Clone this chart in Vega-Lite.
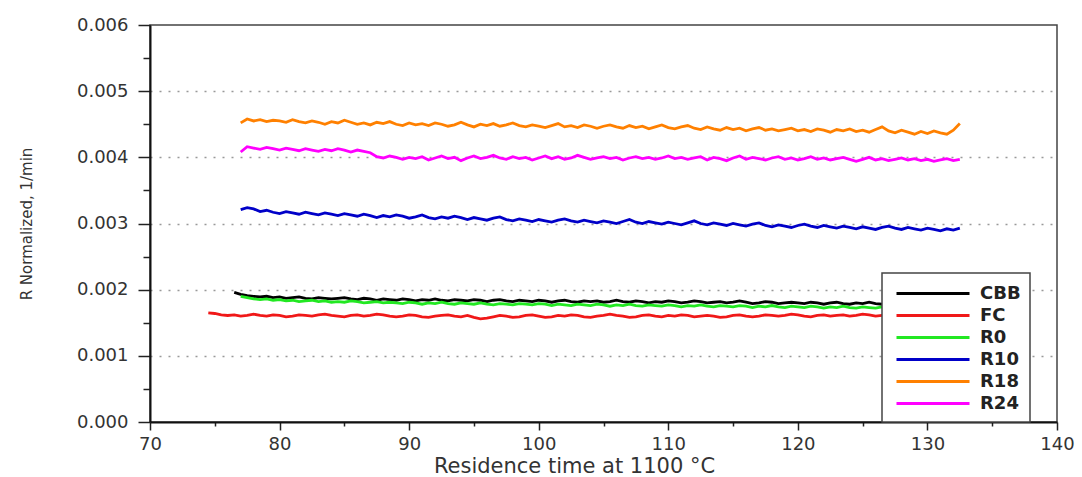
{
  "$schema": "https://vega.github.io/schema/vega-lite/v6.json",
  "width": 907,
  "height": 397,
  "autosize": {"type": "none"},
  "padding": {"left": 150, "top": 25, "right": 25, "bottom": 55},
  "background": "white",
  "config": {
    "view": {"stroke": "#444", "strokeWidth": 1.5},
    "font": "DejaVu Sans"
  },
  "data": {"values": [
    {"x": 74.5, "FC": 0.00165},
    {"x": 75, "FC": 0.00164},
    {"x": 75.5, "FC": 0.00162},
    {"x": 76, "FC": 0.00161},
    {"x": 76.5, "FC": 0.00162, "CBB": 0.00196},
    {"x": 77, "FC": 0.00160, "CBB": 0.00193, "R0": 0.00190, "R10": 0.00321, "R18": 0.00452, "R24": 0.00408},
    {"x": 77.5, "FC": 0.00161, "CBB": 0.00191, "R0": 0.00188, "R10": 0.00324, "R18": 0.00458, "R24": 0.00416},
    {"x": 78, "FC": 0.00163, "CBB": 0.00190, "R0": 0.00186, "R10": 0.00322, "R18": 0.00455, "R24": 0.00414},
    {"x": 78.5, "FC": 0.00161, "CBB": 0.00189, "R0": 0.00185, "R10": 0.00318, "R18": 0.00457, "R24": 0.00412},
    {"x": 79, "FC": 0.00160, "CBB": 0.00190, "R0": 0.00186, "R10": 0.00320, "R18": 0.00454, "R24": 0.00415},
    {"x": 79.5, "FC": 0.00162, "CBB": 0.00188, "R0": 0.00184, "R10": 0.00317, "R18": 0.00456, "R24": 0.00413},
    {"x": 80, "FC": 0.00161, "CBB": 0.00189, "R0": 0.00185, "R10": 0.00315, "R18": 0.00455, "R24": 0.00411},
    {"x": 80.5, "FC": 0.00159, "CBB": 0.00187, "R0": 0.00183, "R10": 0.00318, "R18": 0.00453, "R24": 0.00414},
    {"x": 81, "FC": 0.00160, "CBB": 0.00188, "R0": 0.00184, "R10": 0.00316, "R18": 0.00457, "R24": 0.00412},
    {"x": 81.5, "FC": 0.00162, "CBB": 0.00189, "R0": 0.00182, "R10": 0.00314, "R18": 0.00454, "R24": 0.00410},
    {"x": 82, "FC": 0.00161, "CBB": 0.00187, "R0": 0.00183, "R10": 0.00317, "R18": 0.00452, "R24": 0.00413},
    {"x": 82.5, "FC": 0.00160, "CBB": 0.00186, "R0": 0.00184, "R10": 0.00315, "R18": 0.00455, "R24": 0.00411},
    {"x": 83, "FC": 0.00162, "CBB": 0.00188, "R0": 0.00182, "R10": 0.00313, "R18": 0.00453, "R24": 0.00409},
    {"x": 83.5, "FC": 0.00163, "CBB": 0.00187, "R0": 0.00183, "R10": 0.00316, "R18": 0.00450, "R24": 0.00412},
    {"x": 84, "FC": 0.00161, "CBB": 0.00186, "R0": 0.00181, "R10": 0.00314, "R18": 0.00454, "R24": 0.00410},
    {"x": 84.5, "FC": 0.00160, "CBB": 0.00187, "R0": 0.00182, "R10": 0.00312, "R18": 0.00452, "R24": 0.00413},
    {"x": 85, "FC": 0.00159, "CBB": 0.00188, "R0": 0.00181, "R10": 0.00315, "R18": 0.00456, "R24": 0.00411},
    {"x": 85.5, "FC": 0.00161, "CBB": 0.00186, "R0": 0.00183, "R10": 0.00313, "R18": 0.00453, "R24": 0.00408},
    {"x": 86, "FC": 0.00162, "CBB": 0.00185, "R0": 0.00182, "R10": 0.00311, "R18": 0.00450, "R24": 0.00411},
    {"x": 86.5, "FC": 0.00160, "CBB": 0.00187, "R0": 0.00180, "R10": 0.00314, "R18": 0.00452, "R24": 0.00409},
    {"x": 87, "FC": 0.00161, "CBB": 0.00186, "R0": 0.00181, "R10": 0.00312, "R18": 0.00449, "R24": 0.00407},
    {"x": 87.5, "FC": 0.00163, "CBB": 0.00184, "R0": 0.00182, "R10": 0.00309, "R18": 0.00453, "R24": 0.00401},
    {"x": 88, "FC": 0.00162, "CBB": 0.00186, "R0": 0.00180, "R10": 0.00312, "R18": 0.00451, "R24": 0.00399},
    {"x": 88.5, "FC": 0.00160, "CBB": 0.00185, "R0": 0.00181, "R10": 0.00310, "R18": 0.00454, "R24": 0.00402},
    {"x": 89, "FC": 0.00159, "CBB": 0.00184, "R0": 0.00180, "R10": 0.00313, "R18": 0.00450, "R24": 0.00400},
    {"x": 89.5, "FC": 0.00160, "CBB": 0.00186, "R0": 0.00179, "R10": 0.00311, "R18": 0.00448, "R24": 0.00397},
    {"x": 90, "FC": 0.00162, "CBB": 0.00185, "R0": 0.00181, "R10": 0.00308, "R18": 0.00452, "R24": 0.00400},
    {"x": 90.5, "FC": 0.00161, "CBB": 0.00183, "R0": 0.00180, "R10": 0.00310, "R18": 0.00449, "R24": 0.00398},
    {"x": 91, "FC": 0.00159, "CBB": 0.00185, "R0": 0.00178, "R10": 0.00313, "R18": 0.00451, "R24": 0.00401},
    {"x": 91.5, "FC": 0.00158, "CBB": 0.00184, "R0": 0.00180, "R10": 0.00309, "R18": 0.00448, "R24": 0.00396},
    {"x": 92, "FC": 0.00160, "CBB": 0.00186, "R0": 0.00179, "R10": 0.00307, "R18": 0.00452, "R24": 0.00399},
    {"x": 92.5, "FC": 0.00161, "CBB": 0.00184, "R0": 0.00181, "R10": 0.00310, "R18": 0.00450, "R24": 0.00402},
    {"x": 93, "FC": 0.00162, "CBB": 0.00183, "R0": 0.00179, "R10": 0.00308, "R18": 0.00447, "R24": 0.00398},
    {"x": 93.5, "FC": 0.00160, "CBB": 0.00185, "R0": 0.00178, "R10": 0.00311, "R18": 0.00449, "R24": 0.00400},
    {"x": 94, "FC": 0.00159, "CBB": 0.00184, "R0": 0.00180, "R10": 0.00309, "R18": 0.00453, "R24": 0.00395},
    {"x": 94.5, "FC": 0.00161, "CBB": 0.00183, "R0": 0.00179, "R10": 0.00306, "R18": 0.00449, "R24": 0.00399},
    {"x": 95, "FC": 0.00158, "CBB": 0.00185, "R0": 0.00178, "R10": 0.00309, "R18": 0.00446, "R24": 0.00402},
    {"x": 95.5, "FC": 0.00156, "CBB": 0.00184, "R0": 0.00180, "R10": 0.00307, "R18": 0.00450, "R24": 0.00398},
    {"x": 96, "FC": 0.00157, "CBB": 0.00182, "R0": 0.00178, "R10": 0.00305, "R18": 0.00448, "R24": 0.00400},
    {"x": 96.5, "FC": 0.00159, "CBB": 0.00184, "R0": 0.00177, "R10": 0.00308, "R18": 0.00451, "R24": 0.00403},
    {"x": 97, "FC": 0.00161, "CBB": 0.00185, "R0": 0.00179, "R10": 0.00310, "R18": 0.00447, "R24": 0.00399},
    {"x": 97.5, "FC": 0.00160, "CBB": 0.00183, "R0": 0.00178, "R10": 0.00306, "R18": 0.00449, "R24": 0.00397},
    {"x": 98, "FC": 0.00158, "CBB": 0.00182, "R0": 0.00177, "R10": 0.00304, "R18": 0.00452, "R24": 0.00401},
    {"x": 98.5, "FC": 0.00159, "CBB": 0.00184, "R0": 0.00179, "R10": 0.00307, "R18": 0.00448, "R24": 0.00398},
    {"x": 99, "FC": 0.00161, "CBB": 0.00183, "R0": 0.00178, "R10": 0.00305, "R18": 0.00446, "R24": 0.00400},
    {"x": 99.5, "FC": 0.00162, "CBB": 0.00182, "R0": 0.00177, "R10": 0.00303, "R18": 0.00449, "R24": 0.00396},
    {"x": 100, "FC": 0.00160, "CBB": 0.00184, "R0": 0.00179, "R10": 0.00306, "R18": 0.00447, "R24": 0.00399},
    {"x": 100.5, "FC": 0.00158, "CBB": 0.00183, "R0": 0.00178, "R10": 0.00304, "R18": 0.00445, "R24": 0.00402},
    {"x": 101, "FC": 0.00159, "CBB": 0.00181, "R0": 0.00176, "R10": 0.00302, "R18": 0.00448, "R24": 0.00398},
    {"x": 101.5, "FC": 0.00161, "CBB": 0.00183, "R0": 0.00178, "R10": 0.00305, "R18": 0.00451, "R24": 0.00401},
    {"x": 102, "FC": 0.00160, "CBB": 0.00184, "R0": 0.00177, "R10": 0.00307, "R18": 0.00446, "R24": 0.00397},
    {"x": 102.5, "FC": 0.00162, "CBB": 0.00182, "R0": 0.00176, "R10": 0.00304, "R18": 0.00448, "R24": 0.00399},
    {"x": 103, "FC": 0.00161, "CBB": 0.00181, "R0": 0.00178, "R10": 0.00302, "R18": 0.00445, "R24": 0.00403},
    {"x": 103.5, "FC": 0.00159, "CBB": 0.00183, "R0": 0.00177, "R10": 0.00305, "R18": 0.00449, "R24": 0.00400},
    {"x": 104, "FC": 0.00158, "CBB": 0.00182, "R0": 0.00176, "R10": 0.00303, "R18": 0.00447, "R24": 0.00397},
    {"x": 104.5, "FC": 0.00160, "CBB": 0.00183, "R0": 0.00178, "R10": 0.00301, "R18": 0.00444, "R24": 0.00399},
    {"x": 105, "FC": 0.00161, "CBB": 0.00181, "R0": 0.00177, "R10": 0.00304, "R18": 0.00447, "R24": 0.00401},
    {"x": 105.5, "FC": 0.00163, "CBB": 0.00182, "R0": 0.00175, "R10": 0.00302, "R18": 0.00449, "R24": 0.00398},
    {"x": 106, "FC": 0.00161, "CBB": 0.00184, "R0": 0.00177, "R10": 0.00300, "R18": 0.00446, "R24": 0.00400},
    {"x": 106.5, "FC": 0.00160, "CBB": 0.00182, "R0": 0.00176, "R10": 0.00303, "R18": 0.00444, "R24": 0.00396},
    {"x": 107, "FC": 0.00158, "CBB": 0.00181, "R0": 0.00178, "R10": 0.00306, "R18": 0.00448, "R24": 0.00399},
    {"x": 107.5, "FC": 0.00159, "CBB": 0.00183, "R0": 0.00176, "R10": 0.00302, "R18": 0.00445, "R24": 0.00401},
    {"x": 108, "FC": 0.00161, "CBB": 0.00182, "R0": 0.00175, "R10": 0.00300, "R18": 0.00447, "R24": 0.00398},
    {"x": 108.5, "FC": 0.00162, "CBB": 0.00180, "R0": 0.00177, "R10": 0.00303, "R18": 0.00443, "R24": 0.00400},
    {"x": 109, "FC": 0.00160, "CBB": 0.00182, "R0": 0.00176, "R10": 0.00301, "R18": 0.00446, "R24": 0.00397},
    {"x": 109.5, "FC": 0.00159, "CBB": 0.00181, "R0": 0.00175, "R10": 0.00299, "R18": 0.00449, "R24": 0.00399},
    {"x": 110, "FC": 0.00161, "CBB": 0.00183, "R0": 0.00177, "R10": 0.00302, "R18": 0.00445, "R24": 0.00402},
    {"x": 110.5, "FC": 0.00160, "CBB": 0.00182, "R0": 0.00176, "R10": 0.00300, "R18": 0.00443, "R24": 0.00398},
    {"x": 111, "FC": 0.00162, "CBB": 0.00180, "R0": 0.00174, "R10": 0.00298, "R18": 0.00446, "R24": 0.00400},
    {"x": 111.5, "FC": 0.00161, "CBB": 0.00181, "R0": 0.00176, "R10": 0.00301, "R18": 0.00448, "R24": 0.00397},
    {"x": 112, "FC": 0.00159, "CBB": 0.00183, "R0": 0.00175, "R10": 0.00304, "R18": 0.00444, "R24": 0.00399},
    {"x": 112.5, "FC": 0.00160, "CBB": 0.00182, "R0": 0.00177, "R10": 0.00300, "R18": 0.00442, "R24": 0.00401},
    {"x": 113, "FC": 0.00161, "CBB": 0.00180, "R0": 0.00175, "R10": 0.00298, "R18": 0.00446, "R24": 0.00396},
    {"x": 113.5, "FC": 0.00160, "CBB": 0.00181, "R0": 0.00174, "R10": 0.00301, "R18": 0.00443, "R24": 0.00400},
    {"x": 114, "FC": 0.00158, "CBB": 0.00182, "R0": 0.00176, "R10": 0.00299, "R18": 0.00441, "R24": 0.00398},
    {"x": 114.5, "FC": 0.00159, "CBB": 0.00180, "R0": 0.00175, "R10": 0.00297, "R18": 0.00445, "R24": 0.00395},
    {"x": 115, "FC": 0.00161, "CBB": 0.00181, "R0": 0.00174, "R10": 0.00300, "R18": 0.00442, "R24": 0.00399},
    {"x": 115.5, "FC": 0.00162, "CBB": 0.00183, "R0": 0.00176, "R10": 0.00298, "R18": 0.00444, "R24": 0.00402},
    {"x": 116, "FC": 0.00160, "CBB": 0.00181, "R0": 0.00175, "R10": 0.00296, "R18": 0.00440, "R24": 0.00397},
    {"x": 116.5, "FC": 0.00159, "CBB": 0.00179, "R0": 0.00173, "R10": 0.00299, "R18": 0.00443, "R24": 0.00400},
    {"x": 117, "FC": 0.00160, "CBB": 0.00180, "R0": 0.00175, "R10": 0.00301, "R18": 0.00445, "R24": 0.00398},
    {"x": 117.5, "FC": 0.00162, "CBB": 0.00182, "R0": 0.00174, "R10": 0.00297, "R18": 0.00441, "R24": 0.00396},
    {"x": 118, "FC": 0.00161, "CBB": 0.00181, "R0": 0.00176, "R10": 0.00295, "R18": 0.00443, "R24": 0.00399},
    {"x": 118.5, "FC": 0.00160, "CBB": 0.00179, "R0": 0.00174, "R10": 0.00298, "R18": 0.00440, "R24": 0.00401},
    {"x": 119, "FC": 0.00161, "CBB": 0.00180, "R0": 0.00173, "R10": 0.00296, "R18": 0.00442, "R24": 0.00397},
    {"x": 119.5, "FC": 0.00163, "CBB": 0.00181, "R0": 0.00175, "R10": 0.00294, "R18": 0.00444, "R24": 0.00399},
    {"x": 120, "FC": 0.00162, "CBB": 0.00180, "R0": 0.00174, "R10": 0.00297, "R18": 0.00440, "R24": 0.00396},
    {"x": 120.5, "FC": 0.00160, "CBB": 0.00179, "R0": 0.00173, "R10": 0.00299, "R18": 0.00442, "R24": 0.00398},
    {"x": 121, "FC": 0.00159, "CBB": 0.00181, "R0": 0.00175, "R10": 0.00296, "R18": 0.00439, "R24": 0.00401},
    {"x": 121.5, "FC": 0.00161, "CBB": 0.00180, "R0": 0.00174, "R10": 0.00294, "R18": 0.00443, "R24": 0.00397},
    {"x": 122, "FC": 0.00162, "CBB": 0.00178, "R0": 0.00172, "R10": 0.00297, "R18": 0.00441, "R24": 0.00399},
    {"x": 122.5, "FC": 0.00160, "CBB": 0.00180, "R0": 0.00174, "R10": 0.00295, "R18": 0.00438, "R24": 0.00396},
    {"x": 123, "FC": 0.00161, "CBB": 0.00181, "R0": 0.00173, "R10": 0.00293, "R18": 0.00442, "R24": 0.00398},
    {"x": 123.5, "FC": 0.00162, "CBB": 0.00179, "R0": 0.00175, "R10": 0.00296, "R18": 0.00440, "R24": 0.00400},
    {"x": 124, "FC": 0.00160, "CBB": 0.00178, "R0": 0.00173, "R10": 0.00294, "R18": 0.00443, "R24": 0.00397},
    {"x": 124.5, "FC": 0.00161, "CBB": 0.00180, "R0": 0.00172, "R10": 0.00292, "R18": 0.00439, "R24": 0.00394},
    {"x": 125, "FC": 0.00163, "CBB": 0.00179, "R0": 0.00174, "R10": 0.00295, "R18": 0.00441, "R24": 0.00397},
    {"x": 125.5, "FC": 0.00162, "CBB": 0.00181, "R0": 0.00173, "R10": 0.00293, "R18": 0.00438, "R24": 0.00400},
    {"x": 126, "FC": 0.00160, "CBB": 0.00179, "R0": 0.00172, "R10": 0.00291, "R18": 0.00442, "R24": 0.00396},
    {"x": 126.5, "FC": 0.00161, "CBB": 0.00178, "R0": 0.00174, "R10": 0.00294, "R18": 0.00446, "R24": 0.00398},
    {"x": 127, "FC": 0.00162, "CBB": 0.00180, "R0": 0.00173, "R10": 0.00296, "R18": 0.00440, "R24": 0.00395},
    {"x": 127.5, "FC": 0.00161, "CBB": 0.00179, "R0": 0.00172, "R10": 0.00293, "R18": 0.00437, "R24": 0.00397},
    {"x": 128, "FC": 0.00160, "CBB": 0.00178, "R0": 0.00174, "R10": 0.00291, "R18": 0.00441, "R24": 0.00399},
    {"x": 128.5, "FC": 0.00162, "CBB": 0.00180, "R0": 0.00173, "R10": 0.00294, "R18": 0.00438, "R24": 0.00396},
    {"x": 129, "FC": 0.00163, "CBB": 0.00179, "R0": 0.00172, "R10": 0.00292, "R18": 0.00435, "R24": 0.00398},
    {"x": 129.5, "FC": 0.00161, "CBB": 0.00178, "R0": 0.00173, "R10": 0.00290, "R18": 0.00439, "R24": 0.00395},
    {"x": 130, "FC": 0.00160, "CBB": 0.00179, "R0": 0.00172, "R10": 0.00293, "R18": 0.00436, "R24": 0.00397},
    {"x": 130.5, "FC": 0.00162, "CBB": 0.00180, "R0": 0.00174, "R10": 0.00291, "R18": 0.00440, "R24": 0.00394},
    {"x": 131, "FC": 0.00161, "CBB": 0.00178, "R0": 0.00173, "R10": 0.00289, "R18": 0.00437, "R24": 0.00396},
    {"x": 131.5, "FC": 0.00163, "CBB": 0.00179, "R0": 0.00172, "R10": 0.00292, "R18": 0.00435, "R24": 0.00398},
    {"x": 132, "FC": 0.00162, "CBB": 0.00178, "R0": 0.00173, "R10": 0.00290, "R18": 0.00441, "R24": 0.00395},
    {"x": 132.5, "FC": 0.00161, "CBB": 0.00179, "R0": 0.00172, "R10": 0.00293, "R18": 0.00451, "R24": 0.00397}
  ]},
  "transform": [
    {"fold": ["CBB", "FC", "R0", "R10", "R18", "R24"], "as": ["series", "value"]},
    {"filter": "isValid(datum.value)"}
  ],
  "mark": {"type": "line", "strokeWidth": 2.8, "clip": true},
  "encoding": {
    "x": {
      "field": "x", "type": "quantitative",
      "scale": {"domain": [70, 140], "nice": false, "zero": false},
      "axis": {
        "title": "Residence time at 1100 °C",
        "titleX": 424,
        "values": [70, 75, 80, 85, 90, 95, 100, 105, 110, 115, 120, 125, 130, 135, 140],
        "labelExpr": "datum.value % 10 === 0 ? datum.label : ''",
        "tickSize": {"condition": {"test": "datum.value % 10 === 0", "value": 8}, "value": 4},
        "tickColor": "#222", "tickWidth": 1.5,
        "domainColor": "#111", "domainWidth": 2,
        "grid": false,
        "labelFont": "DejaVu Sans", "labelFontSize": 18, "labelColor": "#333",
        "labelPadding": 5, "labelFlush": false,
        "titleFont": "DejaVu Sans", "titleFontSize": 21, "titleFontWeight": "normal", "titleColor": "#333",
        "titlePadding": 2
      }
    },
    "y": {
      "field": "value", "type": "quantitative",
      "scale": {"domain": [0, 0.006], "nice": false},
      "axis": {
        "title": "R Normalized, 1/min",
        "values": [0, 0.0005, 0.001, 0.0015, 0.002, 0.0025, 0.003, 0.0035, 0.004, 0.0045, 0.005, 0.0055, 0.006],
        "labelExpr": "round(datum.value * 10000) % 10 === 0 ? format(datum.value, '.3f') : ''",
        "tickSize": {"condition": {"test": "round(datum.value * 10000) % 10 === 0", "value": 12}, "value": 7},
        "tickColor": "#222", "tickWidth": 1.5,
        "domainColor": "#111", "domainWidth": 2,
        "grid": true,
        "gridColor": "#999", "gridDash": [2, 7], "gridWidth": 1.5,
        "gridOpacity": {"condition": {"test": "round(datum.value * 10000) % 10 === 0 && datum.value > 0.0001 && datum.value < 0.0059", "value": 1}, "value": 0},
        "labelFont": "DejaVu Sans", "labelFontSize": 18, "labelColor": "#333",
        "labelPadding": 10, "labelFlush": false,
        "titleFont": "DejaVu Sans", "titleFontSize": 15, "titleFontWeight": "normal", "titleColor": "#333",
        "titlePadding": 42
      }
    },
    "color": {
      "field": "series", "type": "nominal",
      "scale": {
        "domain": ["CBB", "FC", "R0", "R10", "R18", "R24"],
        "range": ["#000000", "#f01818", "#22e822", "#0000c8", "#ff8000", "#ff00ff"]
      },
      "legend": {
        "title": "\u00a0\u00a0\u00a0",
        "titleOrient": "right",
        "titleFontSize": 18,
        "titlePadding": 0,
        "orient": "none",
        "legendX": 732,
        "legendY": 248,
        "symbolType": "M-0.6,0H6.7",
        "symbolSize": 400,
        "symbolStrokeWidth": 3,
        "labelFont": "DejaVu Sans", "labelFontSize": 18, "labelFontWeight": "bold", "labelColor": "#222",
        "labelOffset": 66,
        "rowPadding": 1,
        "padding": 9,
        "fillColor": "white",
        "strokeColor": "#444",
        "encode": {"legend": {"update": {"strokeWidth": {"value": 1.5}}}}
      }
    }
  }
}
